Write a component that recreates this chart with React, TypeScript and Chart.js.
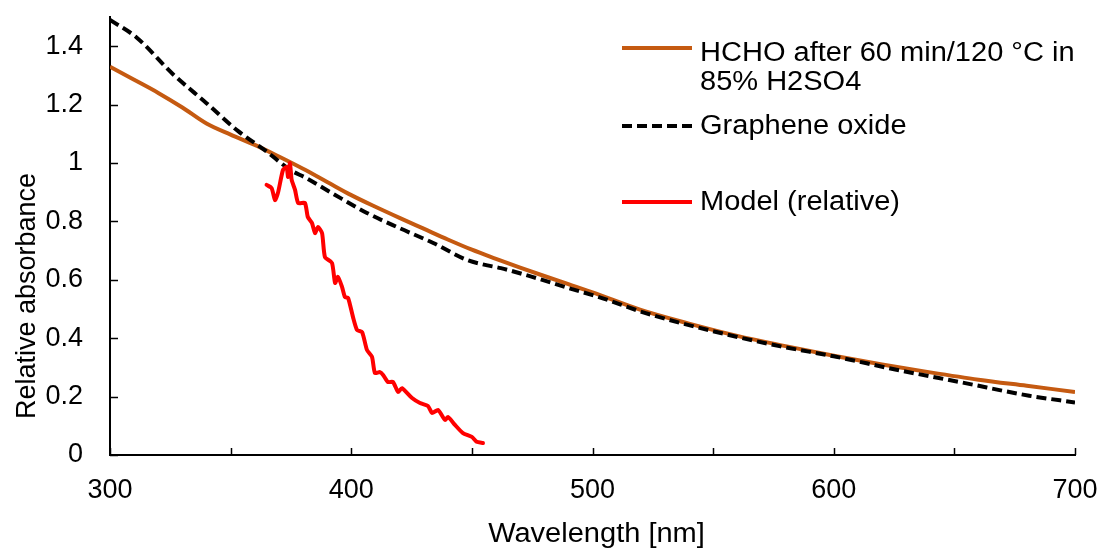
import React, { useEffect, useRef } from 'react';
import { Chart, registerables } from 'chart.js';

Chart.register(...registerables);

// ---- Data ----
const hchoX = [300, 310, 320, 330, 340, 350, 360, 370, 380, 390, 400, 410, 420, 430, 440, 450, 460, 470, 480, 490, 500, 520, 540, 560, 580, 600, 620, 640, 660, 680, 700];
const hchoY = [1.33, 1.285, 1.24, 1.19, 1.135, 1.097, 1.062, 1.022, 0.98, 0.935, 0.89, 0.85, 0.812, 0.775, 0.738, 0.703, 0.672, 0.642, 0.613, 0.585, 0.557, 0.497, 0.45, 0.408, 0.373, 0.34, 0.31, 0.283, 0.258, 0.237, 0.216];

const goX = [300, 311, 326, 340, 353, 364, 375, 381, 392, 406.5, 420, 434, 448, 455, 462, 475, 490, 503, 522, 550, 578, 600, 626, 654, 681, 700];
const goY = [1.49, 1.43, 1.305, 1.205, 1.11, 1.045, 0.975, 0.95, 0.897, 0.829, 0.777, 0.726, 0.668, 0.652, 0.64, 0.61, 0.572, 0.54, 0.486, 0.424, 0.372, 0.338, 0.292, 0.247, 0.203, 0.18];

const modelX = [364.9, 367, 368.4, 369.6, 371.7, 373.2, 373.8, 374.6, 375.3, 376.7, 378, 380.8, 382, 383.7, 385, 386.2, 387.9, 389.1, 392, 393.3, 394.5, 396.2, 397.4, 398.7, 400.7, 402.4, 404.5, 406.5, 408.6, 409.8, 411.9, 413.2, 415.2, 417.3, 419.4, 421, 425.2, 428.5, 431.8, 433.5, 436, 438.9, 440.1, 443, 446.3, 450, 452, 454.6];
const modelY = [0.925, 0.914, 0.873, 0.897, 0.976, 0.986, 0.952, 1.0, 0.942, 0.908, 0.863, 0.863, 0.815, 0.795, 0.76, 0.781, 0.76, 0.678, 0.658, 0.589, 0.61, 0.575, 0.541, 0.538, 0.473, 0.428, 0.421, 0.36, 0.336, 0.281, 0.284, 0.274, 0.25, 0.25, 0.216, 0.229, 0.195, 0.178, 0.168, 0.144, 0.154, 0.12, 0.13, 0.103, 0.075, 0.062, 0.045, 0.041];

const legendLines = [
  ['HCHO after 60 min/120 °C in', '85% H2SO4'],
  ['Graphene oxide'],
  ['Model (relative)'],
];
const xTitle = 'Wavelength [nm]';
const yTitle = 'Relative absorbance';
const xTickValues = [300, 350, 400, 450, 500, 550, 600, 650, 700];
const xLabelValues = [300, 400, 500, 600, 700];
const yTickValues = [0, 0.2, 0.4, 0.6, 0.8, 1, 1.2, 1.4];

const FONT = '"Liberation Sans", Arial, sans-serif';
const FSIZE = 27;
const HSTRETCH = 1.075;

const toPts = (xs: number[], ys: number[]) => xs.map((x, i) => ({ x, y: ys[i] }));

const decorPlugin = {
  id: 'decor',
  afterDraw(chart: any) {
    const { ctx, chartArea, scales } = chart;
    const xs = scales.x;
    const ys = scales.y;
    ctx.save();
    // inside tick marks
    ctx.strokeStyle = '#000';
    ctx.lineWidth = 1.5;
    xs.ticks.forEach((t: any) => {
      const px = Math.round(xs.getPixelForValue(t.value)) + 0.5;
      ctx.beginPath();
      ctx.moveTo(px, chartArea.bottom);
      ctx.lineTo(px, chartArea.bottom - 7);
      ctx.stroke();
    });
    ys.ticks.forEach((t: any) => {
      const py = Math.round(ys.getPixelForValue(t.value)) + 0.5;
      ctx.beginPath();
      ctx.moveTo(chartArea.left, py);
      ctx.lineTo(chartArea.left + 8, py);
      ctx.stroke();
    });

    ctx.fillStyle = '#000';
    ctx.font = `${FSIZE}px ${FONT}`;
    ctx.textBaseline = 'alphabetic';

    // x title
    ctx.save();
    ctx.translate((chartArea.left + chartArea.right) / 2 + 4, 542);
    ctx.scale(HSTRETCH, 1);
    ctx.textAlign = 'center';
    ctx.fillText(xTitle, 0, 0);
    ctx.restore();

    // y title
    ctx.save();
    ctx.translate(35, 296);
    ctx.rotate(-Math.PI / 2);
    ctx.textAlign = 'center';
    ctx.fillText(yTitle, 0, 0);
    ctx.restore();

    // legend
    const keyX0 = 622;
    const keyX1 = 692;
    const textX = 700;
    const keyYs = [48, 126, 202];
    const baselines = [[61, 90], [134], [210]];
    const dsOrder = [2, 1, 0];
    legendLines.forEach((lines, i) => {
      const ds = chart.data.datasets[dsOrder[i]];
      ctx.save();
      ctx.strokeStyle = ds.borderColor;
      ctx.lineWidth = ds.borderWidth;
      ctx.setLineDash(ds.borderDash || []);
      ctx.beginPath();
      ctx.moveTo(keyX0, keyYs[i]);
      ctx.lineTo(keyX1, keyYs[i]);
      ctx.stroke();
      ctx.restore();
      lines.forEach((ln, j) => {
        ctx.save();
        ctx.translate(textX, baselines[i][j]);
        ctx.scale(HSTRETCH, 1);
        ctx.textAlign = 'left';
        ctx.fillText(ln, 0, 0);
        ctx.restore();
      });
    });
    ctx.restore();
  },
};

export default function App() {
  const ref = useRef<HTMLCanvasElement>(null);
  useEffect(() => {
    document.body.style.margin = '0';
    const canvas = ref.current;
    if (!canvas) return;
    const chart = new Chart(canvas, {
      type: 'line',
      data: {
        datasets: [
          {
            label: legendLines[2].join(' '),
            data: toPts(modelX, modelY),
            borderColor: '#FF0000',
            borderWidth: 4,
            borderJoinStyle: 'round',
            borderCapStyle: 'round',
            pointRadius: 0,
            tension: 0.2,
            fill: false,
          },
          {
            label: legendLines[1].join(' '),
            data: toPts(goX, goY),
            borderColor: '#000000',
            borderWidth: 4,
            borderDash: [10, 5],
            pointRadius: 0,
            cubicInterpolationMode: 'monotone',
            fill: false,
          },
          {
            label: legendLines[0].join(' '),
            data: toPts(hchoX, hchoY),
            borderColor: '#C55A11',
            borderWidth: 4,
            pointRadius: 0,
            cubicInterpolationMode: 'monotone',
            fill: false,
          },
        ],
      } as any,
      options: {
        responsive: false,
        animation: false,
        events: [],
        devicePixelRatio: 1,
        layout: { padding: { left: 0, top: 17, right: 28, bottom: 0 } },
        plugins: {
          legend: { display: false },
          tooltip: { enabled: false },
          title: { display: false },
        },
        scales: {
          x: {
            type: 'linear',
            min: 300,
            max: 700,
            grid: { display: false, drawTicks: false },
            border: { display: true, color: '#000', width: 2 },
            ticks: {
              autoSkip: false,
              maxRotation: 0,
              padding: 19,
              color: '#000',
              font: { family: FONT, size: FSIZE },
              callback: (v: any) => (xLabelValues.includes(Number(v)) ? String(v) : ''),
            },
            afterBuildTicks: (s: any) => {
              s.ticks = xTickValues.map((v) => ({ value: v }));
            },
            afterFit: (s: any) => {
              s.height = 93;
              s.paddingLeft = 0;
              s.paddingRight = 0;
            },
          },
          y: {
            type: 'linear',
            min: 0,
            max: 1.5,
            grid: { display: false, drawTicks: false },
            border: { display: true, color: '#000', width: 2 },
            ticks: {
              padding: 27,
              color: '#000',
              font: { family: FONT, size: FSIZE },
              callback: (v: any) => String(Number(Number(v).toFixed(1))),
            },
            afterBuildTicks: (s: any) => {
              s.ticks = yTickValues.map((v) => ({ value: v }));
            },
            afterFit: (s: any) => {
              s.width = 110;
              s.paddingTop = 0;
              s.paddingBottom = 0;
            },
          },
        },
      } as any,
      plugins: [decorPlugin],
    });
    return () => chart.destroy();
  }, []);
  return (
    <div style={{ width: 1103, height: 548 }}>
      <canvas ref={ref} width={1103} height={548} style={{ display: 'block' }} />
    </div>
  );
}
